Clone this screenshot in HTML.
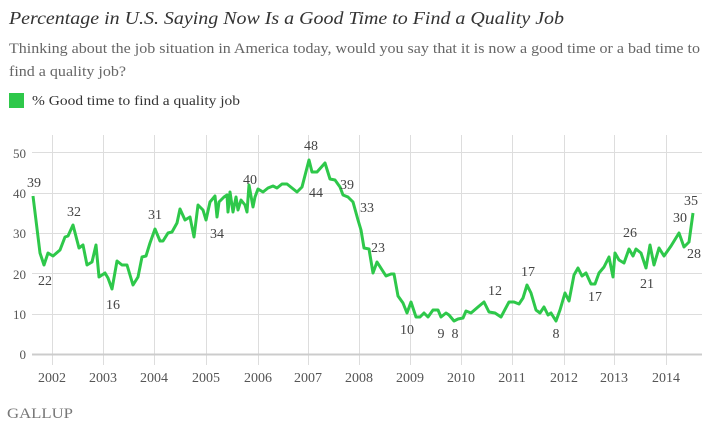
<!DOCTYPE html>
<html><head><style>
body{margin:0;background:#fff;width:716px;height:430px;overflow:hidden}
svg{display:block}
text{font-family:"Liberation Serif",serif}
</style></head><body>
<svg width="716" height="430" viewBox="0 0 716 430">
<text x="9" y="24" font-size="18" font-style="italic" fill="#333" textLength="555" lengthAdjust="spacingAndGlyphs">Percentage in U.S. Saying Now Is a Good Time to Find a Quality Job</text>
<text x="9" y="53" font-size="15" fill="#666" textLength="691" lengthAdjust="spacingAndGlyphs">Thinking about the job situation in America today, would you say that it is now a good time or a bad time to</text>
<text x="9" y="76" font-size="15" fill="#666" textLength="117" lengthAdjust="spacingAndGlyphs">find a quality job?</text>
<rect x="9" y="93" width="15" height="15" fill="#2ec84a"/>
<text x="32" y="105" font-size="14" fill="#333" textLength="208" lengthAdjust="spacingAndGlyphs">% Good time to find a quality job</text>
<g stroke="#ddd" stroke-width="1">
<line x1="32" y1="152.5" x2="702" y2="152.5"/>
<line x1="32" y1="193.5" x2="702" y2="193.5"/>
<line x1="32" y1="233.5" x2="702" y2="233.5"/>
<line x1="32" y1="273.5" x2="702" y2="273.5"/>
<line x1="32" y1="314.5" x2="702" y2="314.5"/>
<line x1="52.5" y1="135" x2="52.5" y2="365"/>
<line x1="103.5" y1="135" x2="103.5" y2="365"/>
<line x1="154.5" y1="135" x2="154.5" y2="365"/>
<line x1="206.5" y1="135" x2="206.5" y2="365"/>
<line x1="258.5" y1="135" x2="258.5" y2="365"/>
<line x1="308.5" y1="135" x2="308.5" y2="365"/>
<line x1="359.5" y1="135" x2="359.5" y2="365"/>
<line x1="410.5" y1="135" x2="410.5" y2="365"/>
<line x1="461.5" y1="135" x2="461.5" y2="365"/>
<line x1="512.5" y1="135" x2="512.5" y2="365"/>
<line x1="564.5" y1="135" x2="564.5" y2="365"/>
<line x1="614.5" y1="135" x2="614.5" y2="365"/>
<line x1="666.5" y1="135" x2="666.5" y2="365"/>
</g>
<line x1="32" y1="354.5" x2="702" y2="354.5" stroke="#ccc" stroke-width="2"/>
<g font-size="13" fill="#555" text-anchor="end">
<text x="26" y="158">50</text><text x="26" y="198">40</text><text x="26" y="238">30</text>
<text x="26" y="279">20</text><text x="26" y="319">10</text><text x="26" y="359">0</text>
</g>
<g font-size="14" fill="#555" text-anchor="middle">
<text x="52" y="382">2002</text><text x="103" y="382">2003</text><text x="154" y="382">2004</text>
<text x="206" y="382">2005</text><text x="258" y="382">2006</text><text x="308" y="382">2007</text>
<text x="359" y="382">2008</text><text x="410" y="382">2009</text><text x="461" y="382">2010</text>
<text x="512" y="382">2011</text><text x="564" y="382">2012</text><text x="614" y="382">2013</text>
<text x="666" y="382">2014</text>
</g>
<polyline fill="none" stroke="#2ec84a" stroke-width="3" stroke-linejoin="round" points="33,196 40,253 44,265 48,253 53,256 60,250 65,237 68,236 73,225 79,248 83,245 87,265 92,262 96,245 99,277 105,273 108,278 112,289 117,261 122,265 127,265 133,285 138,277 142,257 146,256 150,243 155,229 160,241 163,241 168,233 172,232 177,223 180,209 185,220 190,217 194,237 198,205 203,210 206,220 210,202 215,196 217,217 219,202 224,197 227,195 228,212 230,192 233,212 236,197 238,210 241,200 245,205 247,212 249,185 253,207 255,197 258,189 263,192 268,188 273,186 277,188 282,184 287,184 292,188 297,192 302,187 309,160 312,172 317,172 325,163 330,179 335,180 340,187 343,195 348,197 353,202 358,220 361,230 364,248 369,249 373,273 377,262 386,276 391,274 394,274 398,296 403,303 407,313 411,302 416,317 420,317 424,313 428,317 433,310 438,310 441,317 446,313 449,315 454,321 458,319 463,318 466,311 471,313 478,307 484,302 489,312 495,313 501,317 509,302 514,302 519,304 523,298 527,285 531,293 536,310 540,313 544,307 548,315 551,313 556,321 560,310 565,293 569,301 574,275 578,268 582,276 586,273 591,284 595,284 599,273 604,267 609,257 613,277 615,253 619,260 624,263 629,249 633,256 636,249 641,253 646,268 650,245 654,265 659,248 664,256 671,246 679,233 684,247 689,242 693,213"/>
<g font-size="14" fill="#444" text-anchor="middle">
<text x="34" y="187">39</text><text x="45" y="285">22</text><text x="74" y="216">32</text>
<text x="113" y="309">16</text><text x="155" y="219">31</text><text x="217" y="238">34</text>
<text x="250" y="184">40</text><text x="311" y="150">48</text><text x="316" y="197">44</text>
<text x="347" y="189">39</text><text x="367" y="212">33</text><text x="378" y="252">23</text>
<text x="407" y="334">10</text><text x="441" y="338">9</text><text x="455" y="338">8</text>
<text x="495" y="295">12</text><text x="528" y="276">17</text><text x="556" y="338">8</text>
<text x="595" y="301">17</text><text x="630" y="237">26</text><text x="647" y="288">21</text>
<text x="680" y="222">30</text><text x="691" y="205">35</text><text x="694" y="258">28</text>
</g>
<text x="7" y="418" font-size="15" fill="#777" textLength="66" lengthAdjust="spacingAndGlyphs">GALLUP</text>
</svg>
</body></html>
